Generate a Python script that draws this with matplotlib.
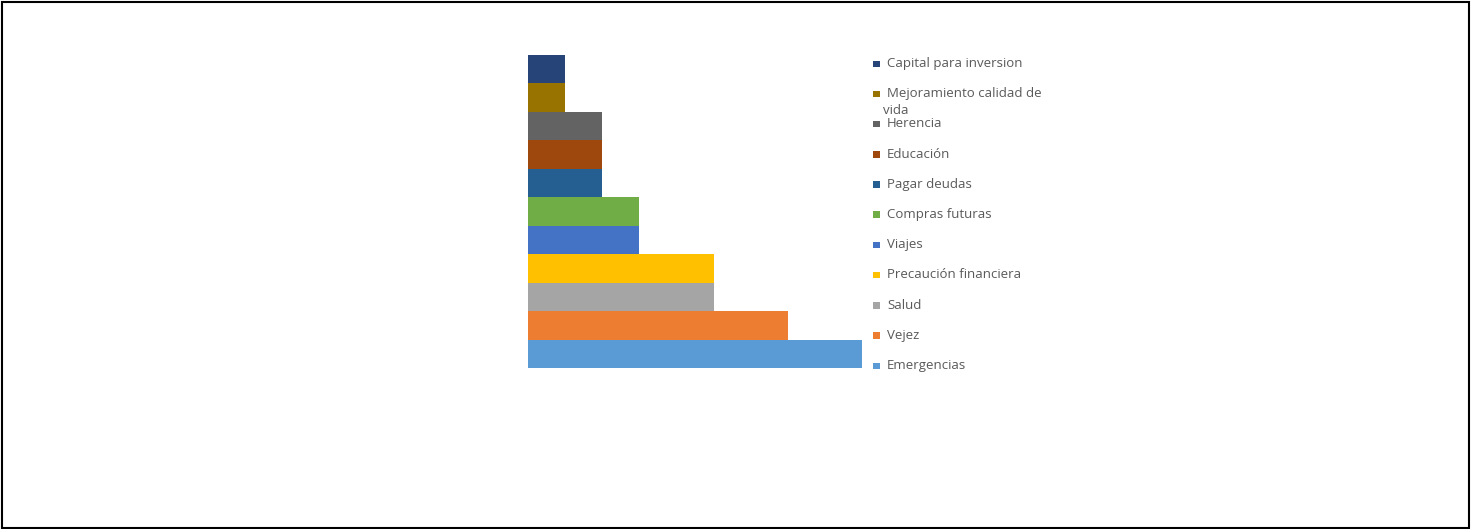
import matplotlib.pyplot as plt
from matplotlib.patches import Rectangle

# bars listed top to bottom
categories = ["Capital para inversion", "Mejoramiento calidad de\nvida", "Herencia",
              "Educación", "Pagar deudas", "Compras futuras", "Viajes",
              "Precaución financiera", "Salud", "Vejez", "Emergencias"]
values = [1, 1, 2, 2, 2, 3, 3, 5, 5, 7, 9]
colors = ["#264478", "#997300", "#636363", "#9E480E", "#255E91", "#70AD47",
          "#4472C4", "#FFC000", "#A5A5A5", "#ED7D31", "#5B9BD5"]

W, H = 1471, 529
fig = plt.figure(figsize=(W / 100, H / 100), dpi=100)
fig.patch.set_facecolor("white")

# plot area
ax = fig.add_axes([528 / W, (H - 368) / H, 334 / W, 313 / H])
n = len(values)
ypos = list(range(n))
ax.barh(ypos, values, height=1.0, color=colors, edgecolor="none")
ax.set_xlim(0, max(values))
ax.set_ylim(n - 0.5, -0.5)
ax.axis("off")

# legend drawn entry by entry so the wrapped label overlaps like the original
x_mark, x_text = 873 / W, 887 / W
y0, step = 63.5, 30.2
for i, (lab, c) in enumerate(zip(categories, colors)):
    yc = y0 + i * step
    fig.patches.append(Rectangle((x_mark, 1 - (yc + 3.5) / H), 6.5 / W, 6.5 / H,
                                 transform=fig.transFigure, facecolor=c,
                                 edgecolor="none"))
    lines = lab.split("\n")
    fig.text(x_text, 1 - yc / H, lines[0], fontsize=9.5, color="#595959",
             family="Open Sans", va="center")
    for k, extra in enumerate(lines[1:], start=1):
        fig.text(x_text - 4 / W, 1 - (yc + 17 * k) / H, extra, fontsize=9.5,
                 color="#595959", family="Open Sans", va="center")

# outer frame
fig.patches.append(Rectangle((1.5 / W, 1.5 / H), (1467 / W), (525.5 / H),
                             transform=fig.transFigure, fill=False,
                             edgecolor="black", linewidth=1.5))

fig.savefig("out.png", dpi=100)
